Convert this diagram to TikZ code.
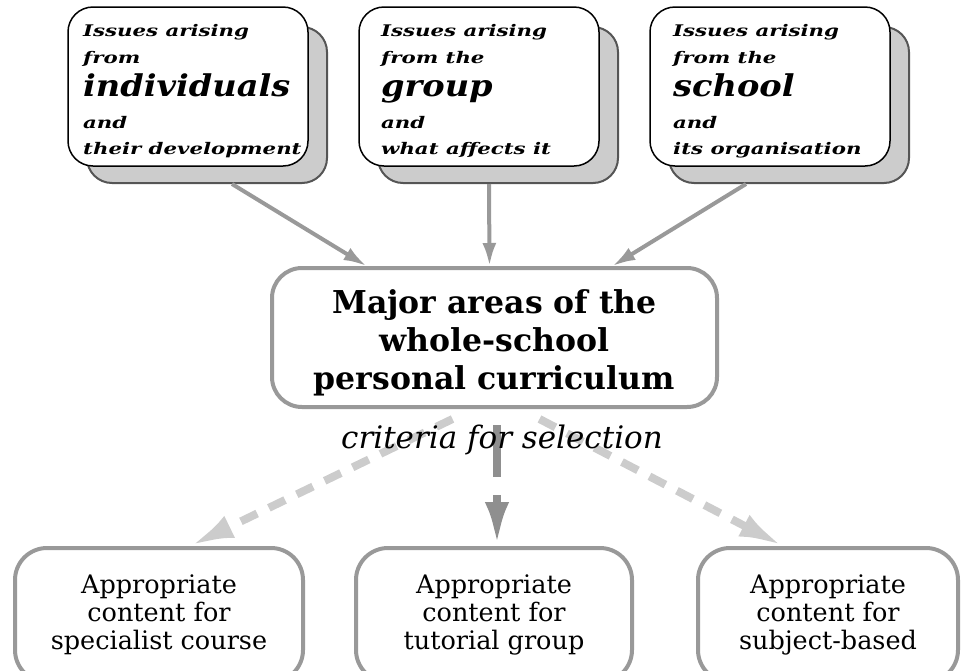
\documentclass[tikz,border=0pt]{standalone}
\usepackage{fontspec}
\setmainfont{DejaVu Serif}
\usetikzlibrary{arrows.meta}
\definecolor{linegray}{HTML}{999999}
\definecolor{shadowgray}{HTML}{CCCCCC}
\definecolor{shadowedge}{HTML}{555555}
\definecolor{dashlight}{HTML}{CCCCCC}
\definecolor{dashdark}{HTML}{8F8F8F}
\newcommand\bigissue{\fontsize{30}{26}\selectfont\addfontfeature{FakeStretch=1.12}}
\tikzset{
  issue/.style={draw=black, line width=1.5pt, fill=white, rounded corners=25pt,
    minimum width=240pt, minimum height=159pt, inner sep=0pt},
  issueshadow/.style={draw=shadowedge, line width=2pt, fill=shadowgray, rounded corners=25pt,
    minimum width=240pt, minimum height=156pt, inner sep=0pt},
  issuetext/.style={anchor=north west, align=left, inner sep=0pt,
    font=\fontsize{16}{27}\selectfont\bfseries\itshape\addfontfeature{FakeStretch=1.33}},
  area/.style={draw=linegray, line width=4pt, fill=white, rounded corners=30pt,
    minimum width=445pt, minimum height=139pt, align=center, inner sep=0pt,
    font=\fontsize{31.5}{38}\selectfont\bfseries},
  content/.style={draw=linegray, line width=4pt, rounded corners=32pt,
    minimum height=134pt, align=center, inner sep=0pt,
    font=\fontsize{25.5}{28}\selectfont},
  feed/.style={draw=linegray, line width=4pt, -{Latex[length=23pt,width=14pt]}},
  select/.style={line width=8pt, dash pattern=on 18pt off 13pt,
    -{Latex[length=44pt,width=24pt]}},
}
\begin{document}
\begin{tikzpicture}[x=1pt,y=-1pt]
  \useasboundingbox (0,0) rectangle (962,670);
  % the three sources, with their shadows
  \node[issueshadow] (s1) at (207,105) {};
  \node[issueshadow] (s2) at (498,105) {};
  \node[issueshadow] (s3) at (789,105) {};
  \node[issue] (b1) at (188,86.5) {};
  \node[issue] (b2) at (479,86.5) {};
  \node[issue] (b3) at (770,86.5) {};
  \node[issuetext] (t1) at (83,24) {Issues arising\\from\\[6pt]{\bigissue individuals}\\[5pt]and\\[-1pt]their development};
  \node[issuetext] (t2) at (381,24) {Issues arising\\from the\\[6pt]{\bigissue group}\\[5pt]and\\[-1pt]what affects it};
  \node[issuetext] (t3) at (673,24) {Issues arising\\from the\\[6pt]{\bigissue school}\\[5pt]and\\[-1pt]its organisation};

  % the curriculum
  \node[area] (area) at (494.5,337.5) {\rule{0pt}{34pt}Major areas of the\\whole-school\\personal curriculum};

  \draw[feed] ([xshift=25pt]s1.south) -- ([xshift=-128pt]area.north);
  \draw[feed] ([xshift=-9pt]s2.south) -- ([xshift=-5pt]area.north);
  \draw[feed] ([xshift=-43pt]s3.south) -- ([xshift=118pt]area.north);

  % the three kinds of content
  \node[content, minimum width=288pt] (spec) at (159,615) {Appropriate\\content for\\specialist course};
  \node[content, minimum width=276pt] (tut) at (494,615) {Appropriate\\content for\\tutorial group};
  \node[content, minimum width=260pt] (subj) at (828,615) {Appropriate\\content for\\subject-based};

  \draw[select, dashlight] ([xshift=-42pt,yshift=-10pt]area.south) -- ([xshift=31pt]spec.north);
  \draw[select, dashdark, dash pattern=on 52pt off 18pt] ([xshift=2.5pt,yshift=-16pt]area.south) -- ([xshift=3pt]tut.north);
  \draw[select, dashlight] ([xshift=45pt,yshift=-10pt]area.south) -- ([xshift=-45pt]subj.north);

  \node[font=\fontsize{31}{36}\selectfont\itshape, anchor=base, inner sep=0pt] (crit) at (502,448) {criteria for selection};
\end{tikzpicture}
\end{document}
